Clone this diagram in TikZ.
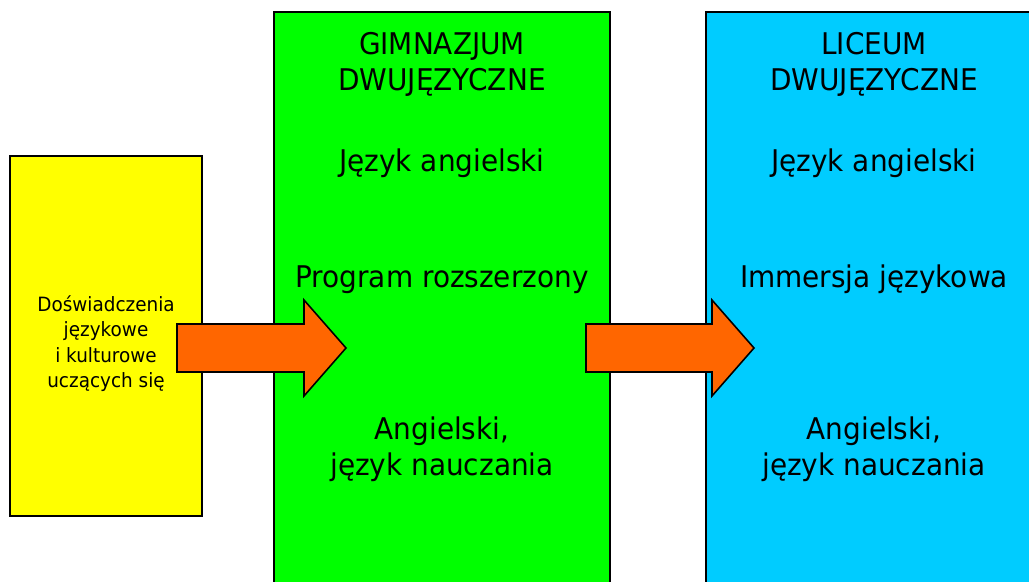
\documentclass[tikz,border=0pt]{standalone}
\usepackage{fontspec}
\setmainfont{DejaVu Sans}[FakeStretch=0.935]
\usepackage{tikz}
\usetikzlibrary{calc}
\usetikzlibrary{positioning}
\definecolor{zolty}{HTML}{FFFF00}
\definecolor{zielony}{HTML}{00FF00}
\definecolor{niebieski}{HTML}{00CCFF}
\definecolor{pomaranczowy}{HTML}{FF6600}
\tikzstyle{blok} = [rectangle, draw=black, line width=0.6pt, inner sep=0pt]
\tikzstyle{duzy} = [draw=none, align=center, inner sep=0pt, font=\fontsize{17pt}{20.5pt}\selectfont]
\tikzstyle{maly} = [draw=none, align=center, inner sep=0pt, font=\fontsize{11.2pt}{14.23pt}\selectfont]
\tikzstyle{strzala} = [draw=black, line width=0.9pt, fill=pomaranczowy, line join=miter]

\begin{document}
\begin{tikzpicture}[x=0.02cm, y=-0.02cm]
\useasboundingbox (0,0) rectangle (1029,582);
\clip (0,0) rectangle (1029,582);
% boxes
\draw [blok, fill=zolty] (10,156) rectangle (202,516);
\draw [blok, fill=zielony] (274,12) rectangle (610,600);
\draw [blok, fill=niebieski] (706,12) rectangle (1040,600);
\coordinate (dosw) at (106,0);
\coordinate (gim) at (442,0);
\coordinate (lic) at (874,0);
% texts
\node [maly, anchor=base] (d1) at (dosw |- 0,311) {Doświadczenia};
\node [maly, anchor=base] (d2) at (dosw |- 0,336) {językowe};
\node [maly, anchor=base] (d3) at (dosw |- 0,362) {i kulturowe};
\node [maly, anchor=base] (d4) at (dosw |- 0,387) {uczących się};
\node [duzy, anchor=base] (g1) at (gim |- 0,54) {GIMNAZJUM};
\node [duzy, anchor=base] (g2) at (gim |- 0,90) {DWUJĘZYCZNE};
\node [duzy, anchor=base] (g3) at (gim |- 0,171) {Język angielski};
\node [duzy, anchor=base] (g4) at (gim |- 0,287) {Program rozszerzony};
\node [duzy, anchor=base] (g5) at (gim |- 0,439) {Angielski,};
\node [duzy, anchor=base] (g6) at (gim |- 0,475) {język nauczania};
\node [duzy, anchor=base] (l1) at (lic |- 0,54) {LICEUM};
\node [duzy, anchor=base] (l2) at (lic |- 0,90) {DWUJĘZYCZNE};
\node [duzy, anchor=base] (l3) at (lic |- 0,171) {Język angielski};
\node [duzy, anchor=base] (l4) at (lic |- 0,287) {Immersja językowa};
\node [duzy, anchor=base] (l5) at (lic |- 0,439) {Angielski,};
\node [duzy, anchor=base] (l6) at (lic |- 0,475) {język nauczania};
% arrows
\foreach \s/\t in {177/346, 586/754}
  \draw [strzala] (\s,324) -- (\t-42,324) -- (\t-42,300) -- (\t,348)
    -- (\t-42,396) -- (\t-42,372) -- (\s,372) -- cycle;
\end{tikzpicture}
\end{document}
